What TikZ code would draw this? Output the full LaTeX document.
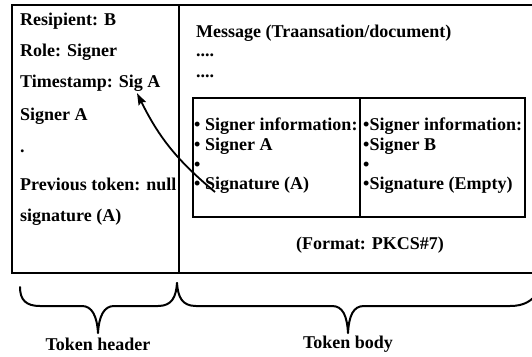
\documentclass[tikz,border=0pt]{standalone}
\usepackage{fontspec}
\setmainfont{Liberation Serif}
\usetikzlibrary{arrows.meta}
\tikzset{
  frame/.style={line width=2pt},
  txt/.style={anchor=base west, inner sep=0pt, font=\fontsize{18}{20}\selectfont\bfseries},
  ctxt/.style={anchor=base, inner sep=0pt, font=\fontsize{18}{20}\selectfont\bfseries},
  bracepath/.style={line width=2pt, line cap=round, line join=round},
  pointer/.style={line width=1.8pt, -{Stealth[length=12pt,width=8pt,inset=2pt]}}
}
\begin{document}
\begin{tikzpicture}[x=1pt,y=-1pt]
\useasboundingbox (0,0) rectangle (532,356);
\begin{scope}
\clip (0,0) rectangle (532,356);

% token frame: header | body
\draw[frame] (12,5) rectangle (545,273);
\draw[frame] (179,5) -- (179,273);

% token header fields
\node[txt] (rcp)  at (20,25)  {Resipient: B};
\node[txt] (role) at (20,56)  {Role: Signer};
\node[txt] (ts)   at (20,87)  {Timestamp: Sig A};
\node[txt] (sgn)  at (20,120) {Signer A};
\node[txt] (dot)  at (20,152) {.};
\node[txt] (prev) at (20,190) {Previous token: null};
\node[txt] (sig)  at (20,221) {signature (A)};

% token body
\node[txt] (msg) at (196,37) {Message (Traansation/document)};
\node[txt] (d1)  at (196,56) {....};
\node[txt] (d2)  at (196,77) {....};

% PKCS#7 signer table
\draw[frame] (192.5,97.5) rectangle (525,217);
\draw[frame] (360,97.5) -- (360,217);

\node[txt] (la) at (194,130) {\textbullet\ Signer information:};
\node[txt] (lb) at (194,150) {\textbullet\ Signer A};
\node[txt] (lc) at (194,170) {\textbullet};
\node[txt] (ld) at (194,189) {\textbullet\ Signature (A)};

\node[txt] (ra) at (363,130) {\textbullet Signer information:};
\node[txt] (rb) at (363,150) {\textbullet Signer B};
\node[txt] (rc) at (363,170) {\textbullet};
\node[txt] (rd) at (363,189) {\textbullet Signature (Empty)};

\node[ctxt] (fmt) at (370,249) {(Format: PKCS\#7)};

% signature points back to the timestamp
\coordinate (tail) at (215,192);
\coordinate (tip) at (137,93);
\draw[pointer] (tail) to[bend left=12] (tip);

% braces under the frame
\draw[bracepath] (20,287) .. controls (20,300) and (26,306) .. (40,306)
  -- (82,306) .. controls (92,306) and (97,316) .. (98,333)
  .. controls (99,316) and (104,306) .. (114,306)
  -- (158,306) .. controls (172,306) and (176,297) .. (177,283);
\draw[bracepath] (177,283) .. controls (178,297) and (182,306) .. (196,306)
  -- (332,306) .. controls (343,306) and (347,316) .. (348,333)
  .. controls (349,316) and (353,306) .. (364,306)
  -- (510,306) .. controls (524,306) and (532,301) .. (538,292);
\end{scope}

\node[ctxt] (hdr)  at (98,350)  {Token header};
\node[ctxt] (body) at (348,348) {Token body};
\end{tikzpicture}
\end{document}
